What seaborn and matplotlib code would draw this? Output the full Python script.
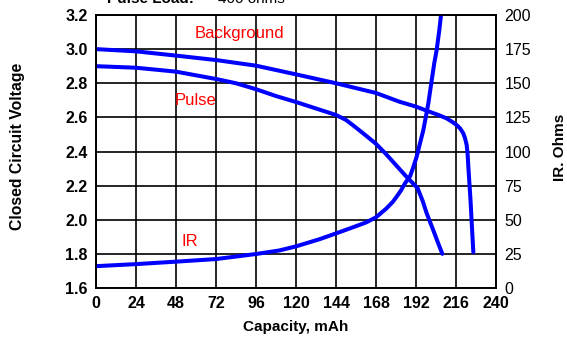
import matplotlib
matplotlib.use("Agg")
import matplotlib.pyplot as plt
import seaborn as sns

# capacity (mAh) / voltage
bg_cap = [0, 24, 48, 72, 96, 120, 144, 168, 182, 192, 199, 206, 210.4, 214, 216.4, 218.5, 220.4, 221.5, 222.4,
          223, 223.4, 224, 224.7, 225.5, 226.4]
bg_volt = [3.00, 2.987, 2.962, 2.936, 2.903, 2.852, 2.80, 2.743, 2.692, 2.663, 2.637, 2.612, 2.594, 2.572,
           2.555, 2.535, 2.506, 2.475, 2.438, 2.38, 2.311, 2.22, 2.116, 1.97, 1.81]

pulse_cap = [0, 24, 48, 72, 84, 96, 108, 120, 132, 144, 150, 156, 162, 168, 174, 180, 186, 190, 193, 196,
             198.4, 202, 205.4, 207.8]
pulse_volt = [2.90, 2.891, 2.868, 2.825, 2.80, 2.765, 2.725, 2.69, 2.652, 2.614, 2.585, 2.54, 2.493, 2.445,
              2.385, 2.32, 2.255, 2.215, 2.184, 2.11, 2.038, 1.948, 1.86, 1.80]

ir_cap = [0, 24, 48, 72, 96, 110, 120, 134, 144, 154, 162, 168, 174, 178, 180.4, 183, 185.4, 188.5, 190.5,
          192.4, 194.4, 196.4, 198, 199.4, 201.4, 203, 204.4, 206, 207]
ir_ohms = [16, 17.5, 19.3, 21.2, 24.9, 27.5, 30.5, 35.7, 40, 44.4, 48, 51.8, 58, 63, 66.9, 71.5, 76.7, 82, 89,
           96.2, 106, 115.7, 126, 135.3, 152, 165, 174.4, 189, 200]

x_ticks = list(range(0, 241, 24))
v_ticks = [1.6, 1.8, 2.0, 2.2, 2.4, 2.6, 2.8, 3.0, 3.2]
ohm_ticks = list(range(0, 201, 25))

sns.set_style("white")
plt.rcParams['font.family'] = ['Liberation Sans', 'DejaVu Sans']
plt.rcParams['text.color'] = 'black'

fig, ax = plt.subplots(figsize=(5.67, 3.43), dpi=100)
fig.subplots_adjust(left=96/567, right=496/567, top=1-15/343, bottom=1-288/343)
ax2 = ax.twinx()

blue = (0, 0, 1)
sns.lineplot(x=bg_cap, y=bg_volt, ax=ax, color=blue, lw=2.9, sort=False)
sns.lineplot(x=pulse_cap, y=pulse_volt, ax=ax, color=blue, lw=2.9, sort=False)
sns.lineplot(x=ir_cap, y=ir_ohms, ax=ax2, color=blue, lw=2.9, sort=False)

ax.set_xlim(0, 240)
ax.set_ylim(1.6, 3.2)
ax2.set_ylim(0, 200)
ax.set_xticks(x_ticks)
ax.set_yticks(v_ticks)
ax2.set_yticks(ohm_ticks)
ax.set_yticklabels([f"{v:.1f}" for v in v_ticks])
ax.grid(True, color='black', lw=1.2)
ax.set_axisbelow(True)

for a in (ax, ax2):
    for s in a.spines.values():
        s.set_color('black')
        s.set_linewidth(1.2)
ax.tick_params(axis='both', length=0, pad=6, labelsize=11.5, labelcolor='black')
ax2.tick_params(axis='y', length=0, pad=6, labelsize=11.5, labelcolor='black')
for lab in ax.get_xticklabels() + ax.get_yticklabels():
    lab.set_fontweight('bold')
ax.set_xlabel('')
ax.set_ylabel('')

red = (1, 0, 0)
ax.text(86, 3.094, 'Background', color=red, fontsize=12, ha='center', va='center')
ax.text(60, 2.70, 'Pulse', color=red, fontsize=12, ha='center', va='center')
ax.text(56, 1.875, 'IR', color=red, fontsize=12, ha='center', va='center')

fig.text(18/567, 1-146/343, 'Closed Circuit Voltage', rotation=90, ha='center', va='center',
         fontsize=11.3, fontweight='bold')
fig.text(560/567, 1-147/343, 'IR. Ohms', rotation=90, ha='center', va='center',
         fontsize=11, fontweight='bold')
fig.text(296/567, 1-327/343, 'Capacity, mAh', ha='center', va='center',
         fontsize=11, fontweight='bold')
fig.text(107/567, 1-3/343, 'Pulse Load:', ha='left', va='baseline', fontsize=11, fontweight='bold')
fig.text(218/567, 1-3/343, '400 ohms', ha='left', va='baseline', fontsize=11)

fig.savefig('out.png', dpi=100)
